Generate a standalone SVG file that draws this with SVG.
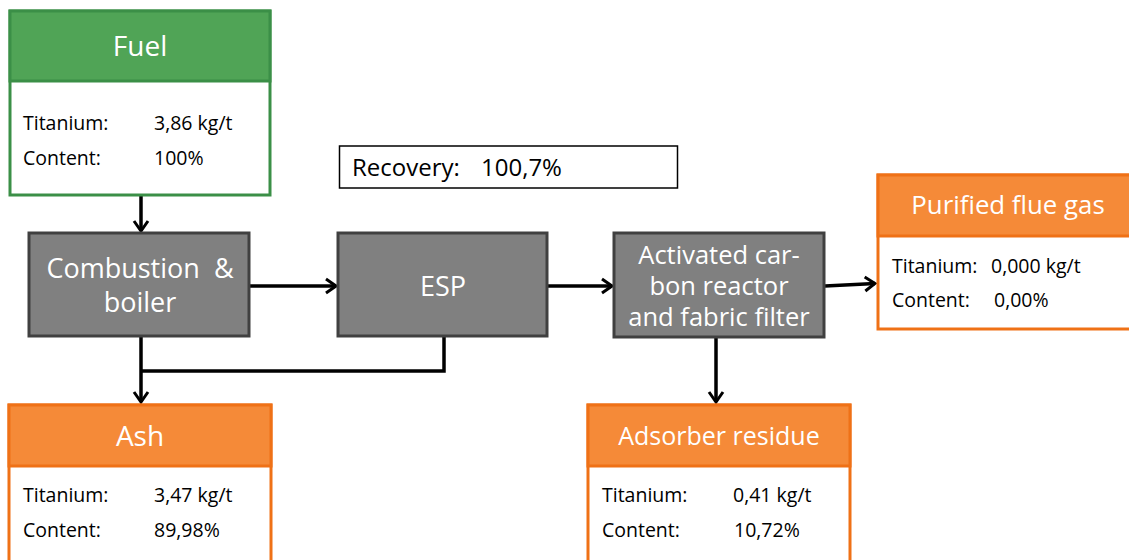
<svg xmlns="http://www.w3.org/2000/svg" width="1129" height="560" viewBox="0 0 1129 560">
<style>
text{font-family:"Open Sans","Noto Sans","Liberation Sans",sans-serif}
.g{fill:#fff;stroke:#3b8f47;stroke-width:3}
.gh{fill:#50a456;stroke:#3b8f47;stroke-width:3}
.o{fill:#fff;stroke:#ef7116;stroke-width:3}
.oh{fill:#f58a38;stroke:#ef7116;stroke-width:3}
.p{fill:#808080;stroke:#404040;stroke-width:3}
.h{fill:#fff;font-size:28px;text-anchor:middle}
.pt{fill:#fff;font-size:27px;text-anchor:middle}
.t{fill:#000;font-size:19.5px}
.c{fill:none;stroke:#000;stroke-width:3.5}
</style>
<defs>
<marker id="ar" viewBox="0 0 14 18" refX="12" refY="9" markerWidth="14" markerHeight="18" markerUnits="userSpaceOnUse" orient="auto">
<polyline points="2,2 12,9 2,16" fill="none" stroke="#000" stroke-width="3"/>
</marker>
</defs>
<g id="connectors">
<line class="c" x1="141" y1="196" x2="141" y2="231" marker-end="url(#ar)"/>
<line class="c" x1="250" y1="286" x2="336" y2="286" marker-end="url(#ar)"/>
<line class="c" x1="548" y1="286" x2="612" y2="286" marker-end="url(#ar)"/>
<line class="c" x1="825" y1="286" x2="875" y2="283.5" marker-end="url(#ar)"/>
<line class="c" x1="141" y1="337" x2="141" y2="402" marker-end="url(#ar)"/>
<polyline class="c" points="444,337 444,371 141,371"/>
<line class="c" x1="716" y1="338" x2="716" y2="402" marker-end="url(#ar)"/>
</g>
<g id="fuel">
<rect class="g" x="10" y="11" width="260" height="184"/>
<rect class="gh" x="10" y="11" width="260" height="70"/>
<text class="h" x="140" y="56">Fuel</text>
<text class="t" x="23" y="130">Titanium:</text>
<text class="t" x="154" y="130">3,86 kg/t</text>
<text class="t" x="23" y="165">Content:</text>
<text class="t" x="154" y="165">100%</text>
</g>
<g id="recovery">
<rect x="339.5" y="146" width="338" height="42" fill="#fff" stroke="#000" stroke-width="1.5"/>
<text x="352" y="176" font-size="24">Recovery:</text>
<text x="481" y="176" font-size="24">100,7%</text>
</g>
<g id="combustion">
<rect class="p" x="29" y="233" width="220" height="103"/>
<text class="pt" x="140" y="278" xml:space="preserve">Combustion  &amp;</text>
<text class="pt" x="140" y="312">boiler</text>
</g>
<g id="esp">
<rect class="p" x="338" y="233" width="209" height="103"/>
<text class="pt" x="443" y="296">ESP</text>
</g>
<g id="activated">
<rect class="p" x="614" y="233" width="210" height="104"/>
<text class="pt" x="719" y="264" style="font-size:25.5px">Activated car-</text>
<text class="pt" x="719" y="295" style="font-size:25.5px">bon reactor</text>
<text class="pt" x="719" y="326" style="font-size:25.5px">and fabric filter</text>
</g>
<g id="purified">
<rect class="o" x="878" y="175" width="260" height="154"/>
<rect class="oh" x="878" y="175" width="260" height="61"/>
<text class="h" x="1008" y="214" style="font-size:25.8px">Purified flue gas</text>
<text class="t" x="892" y="273">Titanium:</text>
<text class="t" x="991" y="273">0,000 kg/t</text>
<text class="t" x="892" y="307">Content:</text>
<text class="t" x="994" y="307">0,00%</text>
</g>
<g id="ash">
<rect class="o" x="9" y="405" width="262" height="170"/>
<rect class="oh" x="9" y="405" width="262" height="61"/>
<text class="h" x="140" y="446">Ash</text>
<text class="t" x="23" y="502">Titanium:</text>
<text class="t" x="154" y="502">3,47 kg/t</text>
<text class="t" x="23" y="537">Content:</text>
<text class="t" x="154" y="537">89,98%</text>
</g>
<g id="adsorber">
<rect class="o" x="588" y="405" width="262" height="170"/>
<rect class="oh" x="588" y="405" width="262" height="61"/>
<text class="h" x="719" y="445" style="font-size:25px">Adsorber residue</text>
<text class="t" x="602" y="502">Titanium:</text>
<text class="t" x="733" y="502">0,41 kg/t</text>
<text class="t" x="602" y="537">Content:</text>
<text class="t" x="734" y="537">10,72%</text>
</g>
</svg>
